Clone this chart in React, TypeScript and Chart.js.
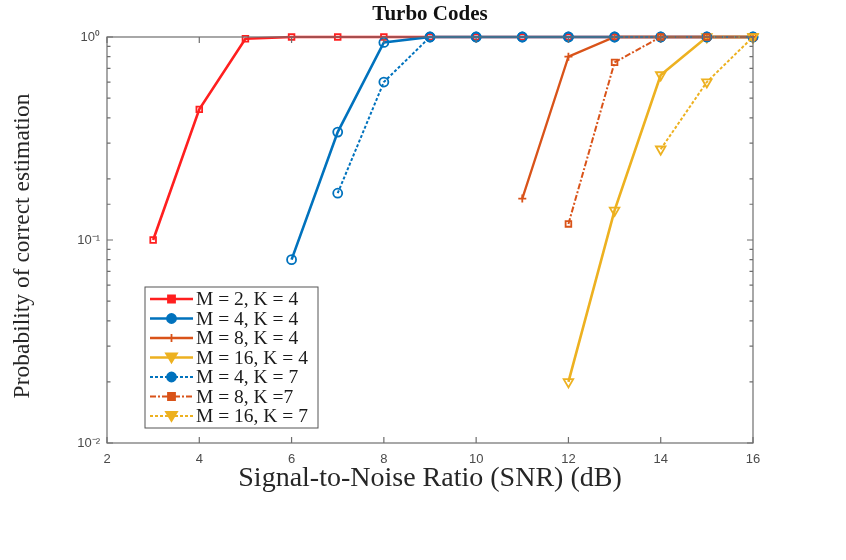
import React, { useEffect, useRef } from "react";
import { Chart, registerables } from "chart.js";
Chart.register(...registerables);

const chartTitle = "Turbo Codes";
const xAxisTitle = "Signal-to-Noise Ratio (SNR) (dB)";
const yAxisTitle = "Probability of correct estimation";
const xTickValues = [2, 4, 6, 8, 10, 12, 14, 16];
const yDecades = [1, 0.1, 0.01];
const yDecadeLabels = ["10\u2070", "10\u207B\u00B9", "10\u207B\u00B2"];

const seriesLabels = [
  "M = 2, K = 4",
  "M = 4, K = 4",
  "M = 8, K = 4",
  "M = 16, K = 4",
  "M = 4, K = 7",
  "M = 8, K =7",
  "M = 16, K = 7",
];

const snrM2K4 = [3, 4, 5, 6, 7, 8, 9, 10, 11, 12, 13, 14, 15, 16];
const probM2K4 = [0.1, 0.44, 0.98, 1, 1, 1, 1, 1, 1, 1, 1, 1, 1, 1];
const snrM4K4 = [6, 7, 8, 9, 10, 11, 12, 13, 14, 15, 16];
const probM4K4 = [0.08, 0.34, 0.94, 1, 1, 1, 1, 1, 1, 1, 1];
const snrM8K4 = [11, 12, 13, 14, 15, 16];
const probM8K4 = [0.16, 0.8, 1, 1, 1, 1];
const snrM16K4 = [12, 13, 14, 15, 16];
const probM16K4 = [0.02, 0.14, 0.65, 1, 1];
const snrM4K7 = [7, 8, 9, 10, 11, 12, 13, 14, 15, 16];
const probM4K7 = [0.17, 0.6, 1, 1, 1, 1, 1, 1, 1, 1];
const snrM8K7 = [12, 13, 14, 15, 16];
const probM8K7 = [0.12, 0.75, 1, 1, 1];
const snrM16K7 = [14, 15, 16];
const probM16K7 = [0.28, 0.6, 1];

const RED = "#ff1f1f";
const BLUE = "#0072BD";
const ORANGE = "#D95319";
const YELLOW = "#EDB120";

const toPts = (xs: number[], ys: number[]) => xs.map((x, i) => ({ x, y: ys[i] }));

type Marker = "square" | "circle" | "plus" | "tri";

function drawMarker(ctx: CanvasRenderingContext2D, m: Marker, x: number, y: number, color: string, filled: boolean) {
  ctx.save();
  ctx.strokeStyle = color;
  ctx.fillStyle = color;
  ctx.lineWidth = 1.8;
  ctx.setLineDash([]);
  ctx.beginPath();
  if (m === "square") {
    ctx.rect(x - 3.5, y - 3.5, 7, 7);
  } else if (m === "circle") {
    ctx.arc(x, y, 4.5, 0, Math.PI * 2);
  } else if (m === "plus") {
    ctx.moveTo(x - 4, y); ctx.lineTo(x + 4, y);
    ctx.moveTo(x, y - 4); ctx.lineTo(x, y + 4);
  } else {
    ctx.moveTo(x - 5.5, y - 4); ctx.lineTo(x + 5.5, y - 4); ctx.lineTo(x, y + 5); ctx.closePath();
  }
  if (filled && m !== "plus") ctx.fill();
  ctx.stroke();
  ctx.restore();
}

const styles: { color: string; dash: number[]; width: number; marker: Marker; ps: any; rot: number; r: number }[] = [
  { color: RED, dash: [], width: 2.6, marker: "square", ps: "rect", rot: 0, r: 4 },
  { color: BLUE, dash: [], width: 2.6, marker: "circle", ps: "circle", rot: 0, r: 4.5 },
  { color: ORANGE, dash: [], width: 2.3, marker: "plus", ps: "cross", rot: 0, r: 4 },
  { color: YELLOW, dash: [], width: 2.6, marker: "tri", ps: "triangle", rot: 180, r: 5.5 },
  { color: BLUE, dash: [3, 2], width: 2, marker: "circle", ps: "circle", rot: 0, r: 4.5 },
  { color: ORANGE, dash: [6, 2, 2, 2], width: 2, marker: "square", ps: "rect", rot: 0, r: 4 },
  { color: YELLOW, dash: [3, 2], width: 2, marker: "tri", ps: "triangle", rot: 180, r: 5.5 },
];

const seriesData = [
  toPts(snrM2K4, probM2K4),
  toPts(snrM4K4, probM4K4),
  toPts(snrM8K4, probM8K4),
  toPts(snrM16K4, probM16K4),
  toPts(snrM4K7, probM4K7),
  toPts(snrM8K7, probM8K7),
  toPts(snrM16K7, probM16K7),
];

const framePlugin = {
  id: "frame",
  afterDraw(chart: any) {
    const { ctx, chartArea, scales } = chart;
    const { left, right, top, bottom } = chartArea;
    const xs = scales.x;
    const ys = scales.y;
    ctx.save();
    ctx.strokeStyle = "#6e6e6e";
    ctx.lineWidth = 1.2;
    ctx.setLineDash([]);
    ctx.strokeRect(left, top, right - left, bottom - top);
    ctx.beginPath();
    xTickValues.forEach((v) => {
      const px = xs.getPixelForValue(v);
      ctx.moveTo(px, bottom); ctx.lineTo(px, bottom - 6);
      ctx.moveTo(px, top); ctx.lineTo(px, top + 6);
    });
    ys.ticks.forEach((t: any) => {
      const v = t.value;
      const lg = Math.log10(v);
      const major = Math.abs(lg - Math.round(lg)) < 1e-6;
      const len = major ? 6 : 3.5;
      const py = ys.getPixelForValue(v);
      ctx.moveTo(left, py); ctx.lineTo(left + len, py);
      ctx.moveTo(right, py); ctx.lineTo(right - len, py);
    });
    ctx.stroke();

    // titles
    ctx.fillStyle = "#111";
    ctx.textAlign = "center";
    ctx.textBaseline = "middle";
    ctx.font = 'bold 21px "Liberation Serif"';
    ctx.fillText(chartTitle, (left + right) / 2, 15);
    ctx.fillStyle = "#262626";
    ctx.font = '28px "Liberation Serif"';
    ctx.fillText(xAxisTitle, (left + right) / 2, 479);
    ctx.save();
    ctx.translate(23, (top + bottom) / 2 + 6);
    ctx.rotate(-Math.PI / 2);
    ctx.font = '23.5px "Liberation Serif"';
    ctx.fillText(yAxisTitle, 0, 0);
    ctx.restore();

    // legend
    const lx = 145, ly = 287, lw = 173, lh = 141;
    ctx.fillStyle = "#fff";
    ctx.fillRect(lx, ly, lw, lh);
    ctx.strokeStyle = "#555";
    ctx.lineWidth = 1;
    ctx.strokeRect(lx, ly, lw, lh);
    chart.data.datasets.forEach((ds: any, i: number) => {
      const st = styles[i];
      const cy = ly + 12 + i * 19.5;
      ctx.save();
      ctx.strokeStyle = st.color;
      ctx.lineWidth = st.width;
      ctx.setLineDash(st.dash);
      ctx.beginPath();
      ctx.moveTo(lx + 5, cy);
      ctx.lineTo(lx + 48, cy);
      ctx.stroke();
      ctx.restore();
      drawMarker(ctx, st.marker, lx + 26.5, cy, st.color, true);
      ctx.fillStyle = "#1a1a1a";
      ctx.textAlign = "left";
      ctx.textBaseline = "middle";
      ctx.font = '19.5px "Liberation Serif"';
      ctx.fillText(ds.label, lx + 51, cy + 1);
    });
    ctx.restore();
  },
};

const App = () => {
  const ref = useRef<HTMLCanvasElement>(null);
  useEffect(() => {
    const chart = new Chart(ref.current!, {
      type: "line",
      data: {
        datasets: seriesLabels.map((label, i) => {
          const st = styles[i];
          return {
            label,
            data: seriesData[i],
            borderColor: st.color,
            backgroundColor: st.color,
            borderWidth: st.width,
            borderDash: st.dash,
            pointStyle: st.ps,
            pointRotation: st.rot,
            pointRadius: st.r,
            pointBorderWidth: 1.8,
            pointBorderColor: st.color,
            pointBackgroundColor: "rgba(255,255,255,0)",
            tension: 0,
            fill: false,
            clip: false,
            order: 20 - i,
          };
        }) as any,
      },
      options: {
        animation: false,
        responsive: true,
        maintainAspectRatio: false,
        devicePixelRatio: 1,
        layout: { padding: { left: 0, right: 93, top: 37, bottom: 0 } },
        plugins: { legend: { display: false }, tooltip: { enabled: false }, title: { display: false } },
        scales: {
          x: {
            type: "linear",
            min: 2,
            max: 16,
            afterFit: (s: any) => { s.height = 117; },
            afterBuildTicks: (s: any) => { s.ticks = xTickValues.map((v) => ({ value: v })); },
            grid: { display: false, drawTicks: false },
            border: { display: false },
            ticks: {
              padding: 9,
              maxRotation: 0,
              autoSkip: false,
              color: "#4a4a4a",
              font: { family: '"Liberation Sans"', size: 13 },
            },
          },
          y: {
            type: "logarithmic",
            min: 0.01,
            max: 1,
            afterFit: (s: any) => { s.width = 107; },
            grid: { display: false, drawTicks: false },
            border: { display: false },
            ticks: {
              padding: 7,
              autoSkip: false,
              color: "#4a4a4a",
              font: { family: '"Liberation Sans"', size: 13 },
              callback: (v: any) => {
                const idx = yDecades.findIndex((d) => Math.abs(d - Number(v)) < 1e-9);
                return idx >= 0 ? yDecadeLabels[idx] : "";
              },
            },
          },
        },
      },
      plugins: [framePlugin],
    });
    return () => chart.destroy();
  }, []);
  return (
    <div style={{ position: "fixed", left: 0, top: 0, width: 846, height: 560, background: "#fff" }}>
      <canvas ref={ref} />
    </div>
  );
};

export default App;
